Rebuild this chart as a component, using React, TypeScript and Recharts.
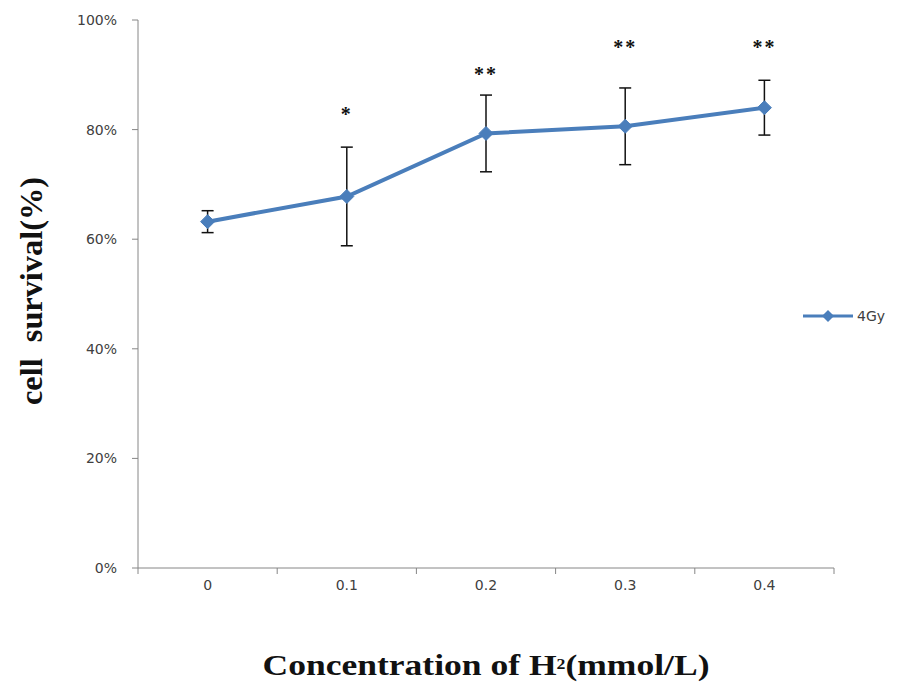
import { LineChart, Line, XAxis, YAxis, ErrorBar, Label } from 'recharts'

// values (cell survival, % of control)
const concentrations = ['0', '0.1', '0.2', '0.3', '0.4']
const survival = [63.2, 67.8, 79.3, 80.6, 84.0]
const sdErr = [2, 9, 7, 7, 5]
const sigMarks = ['', '*', '**', '**', '**']
// where the significance stars sit (same % units as the y axis)
const sigLevel = [null, 83.2, 90.5, 95.4, 95.4]
const yTicks = [0, 20, 40, 60, 80, 100]

const data = concentrations.map((c, i) => ({
  conc: c,
  survival: survival[i],
  err: sdErr[i],
  sig: sigLevel[i],
  mark: sigMarks[i],
}))

const W = 899
const H = 685
const M = { top: 20, right: 65, bottom: 0, left: 0 }
const Y_AXIS_W = 138
const X_AXIS_H = 117
const BAND = (W - M.left - M.right - Y_AXIS_W) / concentrations.length
const TICK = 6
const X_TICK_MARGIN = 6

const BLUE = '#4a7ebb'
const AXIS = '#868686'
const TICK_TEXT = '#404040'

const Diamond = (props: any) => {
  const { cx, cy } = props
  if (cx == null || cy == null) return null
  const r = 7
  return (
    <polygon
      points={`${cx},${cy - r} ${cx + r},${cy} ${cx},${cy + r} ${cx - r},${cy}`}
      fill={BLUE}
      stroke={BLUE}
      strokeWidth={1}
    />
  )
}

// excel style: tick marks between categories, labels in the middle
const XTick = (props: any) => {
  const { x, y, payload, index, visibleTicksCount } = props
  const axisY = y - TICK - X_TICK_MARGIN
  const last = index === visibleTicksCount - 1
  return (
    <g>
      <line x1={x - BAND / 2} x2={x - BAND / 2} y1={axisY} y2={axisY + TICK} stroke={AXIS} />
      {last && <line x1={x + BAND / 2} x2={x + BAND / 2} y1={axisY} y2={axisY + TICK} stroke={AXIS} />}
      <text x={x} y={y} dy="0.71em" textAnchor="middle" fontSize={14} fill={TICK_TEXT}
        fontFamily="DejaVu Sans">
        {payload.value}
      </text>
    </g>
  )
}

const StarLabel = (props: any) => {
  const { x, y, index } = props
  const m = sigMarks[index]
  if (!m || y == null) return null
  return (
    <text x={x} y={y + 9} textAnchor="middle" fontSize={20} fontWeight="bold"
      letterSpacing={2} fontFamily="Liberation Serif" fill="#111">
      {m}
    </text>
  )
}

const XTitle = (props: any) => {
  const { viewBox } = props
  const cx = viewBox.x + viewBox.width / 2
  return (
    <text x={cx} y={675} textAnchor="middle" fontSize={30} fontWeight="bold"
      fontFamily="Liberation Serif" fill="#111" textLength={447} lengthAdjust="spacingAndGlyphs">
      Concentration of H<tspan fontSize={15} dy={-6}>2</tspan><tspan dy={6}>(mmol/L)</tspan>
    </text>
  )
}

const YTitle = () => (
  <text x={42} y={291} transform="rotate(-90, 42, 291)" textAnchor="middle" fontSize={31}
    fontWeight="bold" fontFamily="Liberation Serif" fill="#111" textLength={228}
    lengthAdjust="spacingAndGlyphs" xmlSpace="preserve">
    cell  survival(%)
  </text>
)

function LegendBox() {
  return (
    <svg width={100} height={24} style={{ position: 'absolute', left: 800, top: 304 }}>
      <line x1={3} x2={53} y1={12} y2={12} stroke={BLUE} strokeWidth={3} />
      <polygon points="28,6 34,12 28,18 22,12" fill={BLUE} />
      <text x={57} y={17} fontSize={14} fontFamily="DejaVu Sans" fill={TICK_TEXT}>4Gy</text>
    </svg>
  )
}

export default function App() {
  return (
    <div style={{ position: 'absolute', left: 0, top: 0, width: W, height: H, background: '#fff' }}>
      <LineChart width={W} height={H} data={data} margin={M}>
        <XAxis
          dataKey="conc"
          scale="band"
          height={X_AXIS_H}
          stroke={AXIS}
          tickLine={{ stroke: 'none' }}
          tickSize={TICK}
          tickMargin={X_TICK_MARGIN}
          tick={<XTick />}
          interval={0}
        >
          <Label content={<XTitle />} />
        </XAxis>
        <YAxis
          width={Y_AXIS_W}
          domain={[0, 100]}
          ticks={yTicks}
          tickFormatter={(v: number) => `${v}%`}
          stroke={AXIS}
          tickSize={TICK}
          tickMargin={15}
          tick={{ fontSize: 14, fill: TICK_TEXT, fontFamily: 'DejaVu Sans' }}
        >
          <Label content={<YTitle />} />
        </YAxis>
        <Line
          dataKey="survival"
          stroke={BLUE}
          strokeWidth={4}
          dot={<Diamond />}
          activeDot={false}
          isAnimationActive={false}
        >
          <ErrorBar dataKey="err" direction="y" width={6} stroke="#111" strokeWidth={1.5} />
        </Line>
        <Line
          dataKey="sig"
          stroke="none"
          dot={false}
          activeDot={false}
          legendType="none"
          label={<StarLabel />}
          isAnimationActive={false}
        />
      </LineChart>
      <LegendBox />
    </div>
  )
}
